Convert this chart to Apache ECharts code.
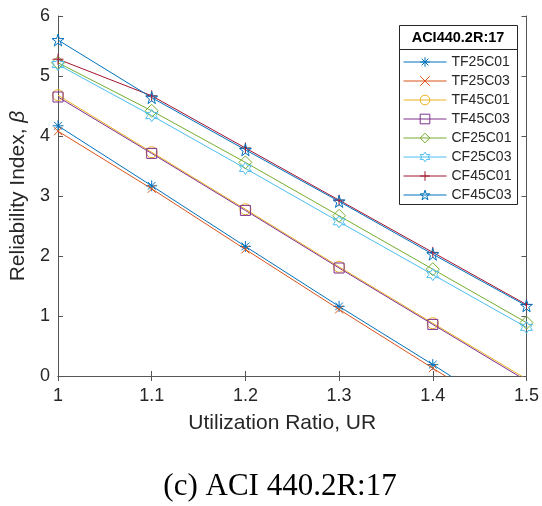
<!DOCTYPE html>
<html><head><meta charset="utf-8">
<script src="https://cdn.jsdelivr.net/npm/echarts@6/dist/echarts.min.js"></script>
<style>html,body{margin:0;padding:0;background:#fff}#c{width:542px;height:506px}</style>
</head><body><div id="c"></div>
<script>
const xValues = [1.0, 1.1, 1.2, 1.3, 1.4, 1.5];
const TF25C01 = [4.17, 3.17, 2.16, 1.16, 0.19, -0.81];
const TF25C03 = [4.08, 3.12, 2.11, 1.11, 0.13, -0.85];
const TF45C01 = [4.68, 3.73, 2.78, 1.82, 0.88, -0.05];
const TF45C03 = [4.65, 3.71, 2.76, 1.80, 0.86, -0.08];
const CF25C01 = [5.22, 4.42, 3.56, 2.67, 1.78, 0.89];
const CF25C03 = [5.19, 4.34, 3.46, 2.57, 1.69, 0.81];
const CF45C01 = [5.28, 4.67, 3.80, 2.93, 2.06, 1.19];
const CF45C03 = [5.60, 4.64, 3.77, 2.91, 2.03, 1.17];
const yTicks = [0, 1, 2, 3, 4, 5, 6];
const xTickLabels = ['1', '1.1', '1.2', '1.3', '1.4', '1.5'];

const sym = {
  asterisk: 'path://M0,-1L0,1M-1,0L1,0M-0.7,-0.7L0.7,0.7M-0.7,0.7L0.7,-0.7',
  cross: 'path://M-1,-1L1,1M-1,1L1,-1',
  circle: 'circle',
  square: 'rect',
  diamond: 'path://M0,-1L0.75,0L0,1L-0.75,0Z',
  hexagram: 'path://M0,-1L0.29,-0.5L0.87,-0.5L0.58,0L0.87,0.5L0.29,0.5L0,1L-0.29,0.5L-0.87,0.5L-0.58,0L-0.87,-0.5L-0.29,-0.5Z',
  plus: 'path://M0,-1L0,1M-1,0L1,0',
  pentagram: 'path://M0,-1L0.2245,-0.309L0.951,-0.309L0.363,0.118L0.588,0.809L0,0.382L-0.588,0.809L-0.363,0.118L-0.951,-0.309L-0.2245,-0.309Z'
};
const seriesDefs = [
  ['TF25C01', TF25C01, '#0072BD', sym.asterisk, 11],
  ['TF25C03', TF25C03, '#D95319', sym.cross, 8],
  ['TF45C01', TF45C01, '#EDB120', sym.circle, 11],
  ['TF45C03', TF45C03, '#7E2F8E', sym.square, 10],
  ['CF25C01', CF25C01, '#77AC30', sym.diamond, 13],
  ['CF25C03', CF25C03, '#4DBEEE', sym.hexagram, 12],
  ['CF45C01', CF45C01, '#A2142F', sym.plus, 11],
  ['CF45C03', CF45C03, '#0072BD', sym.pentagram, 12]
];
const axisColor = '#262626';
const font = 'Liberation Sans, Arial, sans-serif';

const chart = echarts.init(document.getElementById('c'));
chart.setOption({
  animation: false,
  backgroundColor: '#fff',
  grid: { left: 58, top: 16, width: 470, height: 360, containLabel: false },
  xAxis: [{
    type: 'value', min: 1, max: 1.5, interval: 0.1,
    name: 'Utilization Ratio, UR', nameLocation: 'middle', nameGap: 37,
    nameTextStyle: { fontSize: 21, color: axisColor, fontFamily: font, padding: [0, 20, 0, 0] },
    axisLine: { lineStyle: { color: '#555', width: 1 } },
    axisTick: { inside: true, length: 5, lineStyle: { color: '#555' } },
    axisLabel: { fontSize: 18, color: axisColor, fontFamily: font, margin: 11,
      formatter: v => xTickLabels[Math.round((v - 1) * 10)] },
    splitLine: { show: false }
  }, {
    type: 'value', min: 1, max: 1.5, interval: 0.1, position: 'top',
    axisLine: { show: true, lineStyle: { color: '#555' } },
    axisTick: { inside: true, length: 5, lineStyle: { color: '#555' } },
    axisLabel: { show: false }, splitLine: { show: false }
  }],
  yAxis: [{
    type: 'value', min: 0, max: 6, interval: 1,
    name: '{a|Reliability Index, }{b|β}', nameLocation: 'middle', nameGap: 25,
    nameTextStyle: { fontSize: 21, color: axisColor, fontFamily: font,
      rich: { a: { fontSize: 21, color: axisColor, fontFamily: font },
              b: { fontSize: 21, color: axisColor, fontFamily: font, fontStyle: 'italic' } } },
    axisLine: { show: true, lineStyle: { color: '#555' } },
    axisTick: { show: true, inside: true, length: 5, lineStyle: { color: '#555' } },
    axisLabel: { fontSize: 18, color: axisColor, fontFamily: font, margin: 8,
      formatter: v => String(yTicks[Math.round(v)]) },
    splitLine: { show: false }
  }, {
    type: 'value', min: 0, max: 6, interval: 1, position: 'right',
    axisLine: { show: true, lineStyle: { color: '#555' } },
    axisTick: { show: true, inside: true, length: 5, lineStyle: { color: '#555' } },
    axisLabel: { show: false }, splitLine: { show: false }
  }],
  legend: {
    orient: 'vertical', left: 403, top: 55, padding: 0,
    itemWidth: 43, itemHeight: 12, itemGap: 5,
    textStyle: { fontSize: 14, color: axisColor, fontFamily: font, padding: [0, 0, 0, 0] },
    lineStyle: { width: 1 },
    data: seriesDefs.map(d => ({
      name: d[0],
      itemStyle: { color: 'rgba(0,0,0,0)', borderColor: d[2], borderWidth: 1 },
      lineStyle: { color: d[2], width: 1 }
    }))
  },
  graphic: [
    { type: 'rect', shape: { x: 399.5, y: 25.5, width: 118, height: 179 },
      style: { fill: '#fff', stroke: axisColor, lineWidth: 1 }, z: 3 },
    { type: 'line', shape: { x1: 399.5, y1: 49.5, x2: 517.5, y2: 49.5 },
      style: { stroke: axisColor, lineWidth: 1 }, z: 3 },
    { type: 'text', x: 458, y: 38, z: 3,
      style: { text: 'ACI440.2R:17', font: 'bold 14.5px Liberation Sans, Arial, sans-serif',
        fill: '#000', textAlign: 'center', textVerticalAlign: 'middle' } },
    { type: 'text', x: 280, y: 487,
      style: { text: '(c) ACI 440.2R:17', font: '31px Liberation Serif, Times New Roman, serif',
        fill: '#000', textAlign: 'center', textVerticalAlign: 'middle' } }
  ],
  series: seriesDefs.map(d => ({
    name: d[0], type: 'line',
    data: xValues.map((x, i) => [x, d[1][i]]),
    symbol: d[3], symbolSize: d[4], showAllSymbol: true,
    clip: true,
    lineStyle: { color: d[2], width: 1 },
    itemStyle: { color: 'rgba(0,0,0,0)', borderColor: d[2], borderWidth: 1 },
    emphasis: { disabled: true }
  }))
});
</script></body></html>
